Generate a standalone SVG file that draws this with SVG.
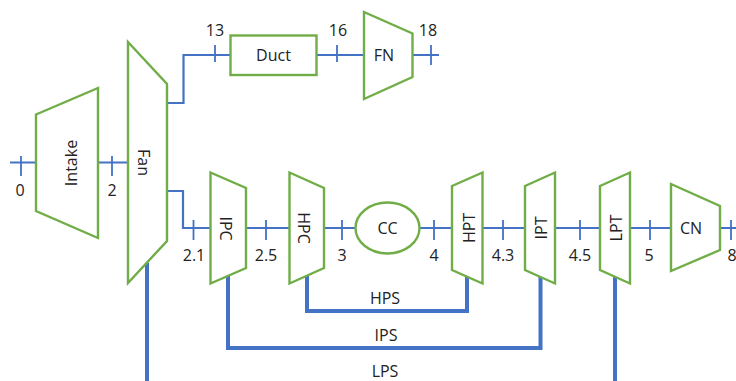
<svg xmlns="http://www.w3.org/2000/svg" width="736" height="381" viewBox="0 0 736 381">
<style>
.n{fill:#fff;stroke:#70ad47;stroke-width:2.4;stroke-linejoin:miter}
.c{fill:none;stroke:#4472c4;stroke-width:2.2}
.t{fill:none;stroke:#4472c4;stroke-width:1.8}
.s{fill:none;stroke:#4472c4;stroke-width:4}
text{font-family:"Open Sans","Noto Sans",sans-serif;font-size:16px;fill:#222;text-anchor:middle}
</style>
<rect width="736" height="381" fill="#fff"/>
<g id="connectors">
<path class="c" d="M10 162.500H36M98 162.500H128"/>
<path class="t" d="M21 156V176M112 156V176"/>
<path class="c" d="M167 103H183.500V55H230M316 55H364M412 55H439"/>
<path class="t" d="M215 45V62M337 45V62M431 45V65"/>
<path class="c" d="M167 191H183V228H210M246 228H290M324 228H356M419 228H452M482 228H525M555 228H600M630 228H671M720 228H736"/>
<path class="t" d="M193.500 220V240M266 220V240M342 220V240M434 220V240M503 220V240M580 220V240M650 220V240M731 220V240"/>
<path class="s" d="M147 263V381M228 275V348H540.500V276M307 275V311H467V277M615 277V381"/>
</g>
<g id="intake"><polygon class="n" points="36,114.500 98,88 98,238 36,211"/><text transform="translate(77,163) rotate(-90)">Intake</text></g>
<g id="fan"><polygon class="n" points="128,42 167,84 167,241 128,283"/><text transform="translate(138,162.500) rotate(90)">Fan</text></g>
<g id="duct"><rect class="n" x="230.500" y="35.500" width="86" height="39.500"/><text x="273.500" y="61">Duct</text></g>
<g id="fn"><polygon class="n" points="364,12 412.500,33.500 412.500,77 364,99"/><text x="384" y="61">FN</text></g>
<g id="ipc"><polygon class="n" points="210.500,172.500 246,188 246,268 210.500,283.500"/><text transform="translate(220,228.500) rotate(90)">IPC</text></g>
<g id="hpc"><polygon class="n" points="289.500,172.500 324,188 324,268 289.500,283.500"/><text transform="translate(298,228) rotate(90)">HPC</text></g>
<g id="cc"><ellipse class="n" cx="387.500" cy="228" rx="32" ry="25.500"/><text x="387.500" y="234">CC</text></g>
<g id="hpt"><polygon class="n" points="452,186 482.500,172.500 482.500,283.500 452,270"/><text transform="translate(475,228) rotate(-90)">HPT</text></g>
<g id="ipt"><polygon class="n" points="525,186 555,172.500 555,283.500 525,270"/><text transform="translate(547,228) rotate(-90)">IPT</text></g>
<g id="lpt"><polygon class="n" points="600,186 630,172.500 630,283.500 600,270"/><text transform="translate(622,228) rotate(-90)">LPT</text></g>
<g id="cn"><polygon class="n" points="671,184 720,206 720,250 671,271"/><text x="691" y="234">CN</text></g>
<g id="labels">
<text x="215" y="36">13</text><text x="338" y="36">16</text><text x="428" y="36">18</text>
<text x="20" y="196">0</text><text x="112" y="196">2</text>
<text x="194" y="261">2.1</text><text x="266" y="261">2.5</text><text x="342" y="261">3</text><text x="434" y="261">4</text><text x="503" y="261">4.3</text><text x="580" y="261">4.5</text><text x="649" y="261">5</text><text x="732" y="261">8</text>
<text x="385" y="304">HPS</text><text x="386" y="341">IPS</text><text x="385" y="377">LPS</text>
</g>
</svg>
